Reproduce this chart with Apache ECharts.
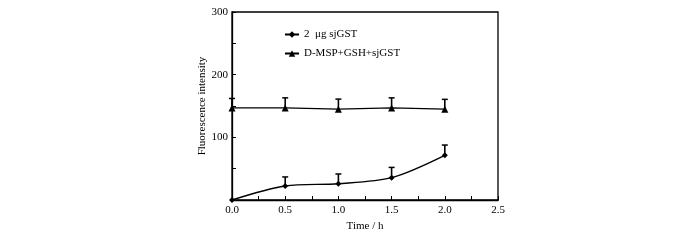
<!DOCTYPE html>
<html>
<head>
<meta charset="utf-8">
<script src="https://cdn.jsdelivr.net/npm/echarts@6/dist/echarts.min.js"></script>
<style>html,body{margin:0;padding:0;background:#fff}#c{width:700px;height:240px}</style>
</head>
<body>
<div id="c"></div>
<script>
var times = [0, 0.5, 1.0, 1.5, 2.0];
var seriesNames = ['2  \u03bcg sjGST', 'D-MSP+GSH+sjGST'];
var sjGST = [0, 22.3, 26, 35.6, 71.3];
var sjGSTErrTop = [0, 36.8, 41.5, 52, 87.7];
var dmsp = [147, 147, 145, 147, 145];
var dmspErrTop = [162, 163, 161, 163, 160.6];
var xTicks = ['0.0', '0.5', '1.0', '1.5', '2.0', '2.5'];
var yTickLabels = ['', '100', '200', '300'];

var font = '"Liberation Serif", "Times New Roman", serif';
var chart = echarts.init(document.getElementById('c'));

function pairs(xs, ys) { return xs.map(function (x, i) { return [x, ys[i]]; }); }
function errData(xs, ys, tops) { return xs.map(function (x, i) { return [x, ys[i], tops[i]]; }); }

function errRender(params, api) {
  if (api.value(2) <= api.value(1)) return null;
  var p0 = api.coord([api.value(0), api.value(1)]);
  var p1 = api.coord([api.value(0), api.value(2)]);
  var w = 3;
  return {
    type: 'group',
    children: [
      { type: 'line', shape: { x1: p0[0], y1: p0[1], x2: p1[0], y2: p1[1] }, style: { stroke: '#000', lineWidth: 1.6 } },
      { type: 'line', shape: { x1: p1[0] - w, y1: p1[1], x2: p1[0] + w, y2: p1[1] }, style: { stroke: '#000', lineWidth: 1.5 } }
    ]
  };
}

chart.setOption({
  animation: false,
  backgroundColor: '#fff',
  grid: { left: 232, right: 202, top: 12, bottom: 40, show: true, borderColor: '#000', borderWidth: 1.3, backgroundColor: 'transparent' },
  legend: {
    data: seriesNames,
    orient: 'vertical',
    left: 279,
    top: 24,
    itemWidth: 14,
    itemHeight: 8,
    itemGap: 8,
    textStyle: { fontFamily: font, fontSize: 11, color: '#000' }
  },
  xAxis: {
    type: 'value',
    min: 0, max: 2.5, interval: 0.5,
    name: 'Time / h',
    nameLocation: 'middle',
    nameGap: 18,
    nameTextStyle: { fontFamily: font, fontSize: 11, color: '#000' },
    axisLine: { lineStyle: { color: '#000', width: 1.3 } },
    axisTick: { inside: true, length: 4, lineStyle: { color: '#000' } },
    minorTick: { show: true, splitNumber: 2, length: 4, lineStyle: { color: '#000' } },
    axisLabel: { fontFamily: font, fontSize: 11, color: '#000', margin: 5,
      formatter: function (v) { var i = Math.round(v / 0.5); return xTicks[i] || ''; } },
    splitLine: { show: false }
  },
  yAxis: {
    type: 'value',
    min: 0, max: 300, interval: 100,
    name: 'Fluorescence intensity',
    nameLocation: 'middle',
    nameGap: 23,
    nameTextStyle: { fontFamily: font, fontSize: 11, color: '#000' },
    axisLine: { lineStyle: { color: '#000', width: 1.3 } },
    axisTick: { inside: true, length: 4, lineStyle: { color: '#000' } },
    minorTick: { show: true, splitNumber: 2, length: 4, lineStyle: { color: '#000' } },
    axisLabel: { fontFamily: font, fontSize: 11, color: '#000', margin: 4,
      formatter: function (v) { var i = Math.round(v / 100); return yTickLabels[i] || ''; } },
    splitLine: { show: false }
  },
  series: [
    {
      name: seriesNames[0], type: 'line', smooth: 0.3,
      data: pairs(times, sjGST),
      symbol: 'diamond', symbolSize: 6,
      itemStyle: { color: '#000' },
      lineStyle: { color: '#000', width: 1.4 },
      z: 3
    },
    {
      name: seriesNames[1], type: 'line',
      data: pairs(times, dmsp),
      symbol: 'triangle', symbolSize: 7,
      itemStyle: { color: '#000' },
      lineStyle: { color: '#000', width: 1.4 },
      z: 3
    },
    { type: 'custom', renderItem: errRender, data: errData(times, sjGST, sjGSTErrTop), encode: { x: 0, y: [1, 2] }, z: 2 },
    { type: 'custom', renderItem: errRender, data: errData(times, dmsp, dmspErrTop), encode: { x: 0, y: [1, 2] }, z: 2 }
  ]
});
</script>
</body>
</html>
